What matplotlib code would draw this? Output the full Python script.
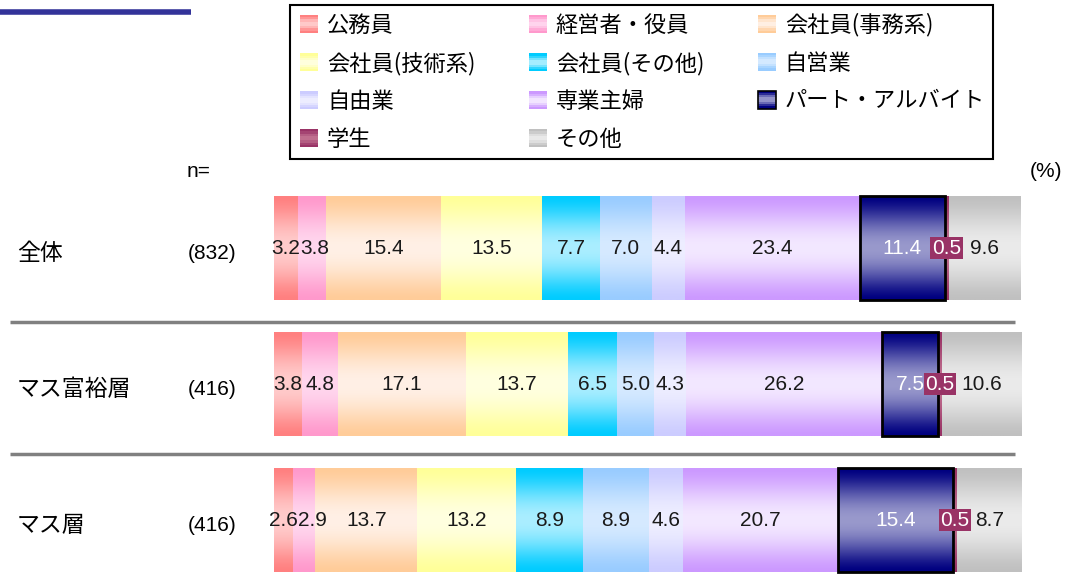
import numpy as np
import matplotlib.pyplot as plt
from matplotlib.colors import to_rgb
from matplotlib.patches import Rectangle
from matplotlib.legend_handler import HandlerBase
from matplotlib.transforms import blended_transform_factory

plt.rcParams['font.family'] = ['Liberation Sans', 'Noto Sans CJK JP', 'DejaVu Sans']

groups = ["全体", "マス富裕層", "マス層"]
n_counts = ["(832)", "(416)", "(416)"]
categories = ["公務員", "経営者・役員", "会社員(事務系)", "会社員(技術系)", "会社員(その他)",
              "自営業", "自由業", "専業主婦", "パート・アルバイト", "学生", "その他"]

zentai = [3.2, 3.8, 15.4, 13.5, 7.7, 7.0, 4.4, 23.4, 11.4, 0.5, 9.6]
mass_fuyu = [3.8, 4.8, 17.1, 13.7, 6.5, 5.0, 4.3, 26.2, 7.5, 0.5, 10.6]
mass = [2.6, 2.9, 13.7, 13.2, 8.9, 8.9, 4.6, 20.7, 15.4, 0.5, 8.7]
rows = [zentai, mass_fuyu, mass]

# gradient colours: edge (top/bottom) and centre
edge_colors = ["#FF8080", "#FF99CC", "#FFCC99", "#FFFF99", "#00CCFF", "#99CCFF",
               "#CCCCFF", "#CC99FF", "#000080", "#993366", "#C0C0C0"]
center_colors = ["#FFCCCC", "#FFD6EE", "#FFF0E6", "#FFFFE0", "#AAEEFF", "#D6EAFF",
                 "#EEEEFF", "#F3E8FF", "#9999CC", "#C07090", "#EBEBEB"]


def gradient(edge, center, n=64):
    t = np.linspace(0, 1, n)
    w = np.sin(np.pi * t) ** 1.5
    e = np.array(to_rgb(edge))
    c = np.array(to_rgb(center))
    return (e[None, :] * (1 - w[:, None]) + c[None, :] * w[:, None])[:, None, :]


class GradientHandler(HandlerBase):
    def __init__(self, edge, center, border=None):
        super().__init__()
        self.edge, self.center, self.border = edge, center, border

    def create_artists(self, legend, orig_handle, xdescent, ydescent,
                       width, height, fontsize, trans):
        s = 13
        x0, y0 = -xdescent + width - s, -ydescent + (height - s) / 2
        g = gradient(self.edge, self.center, 8)
        arts = []
        for i in range(8):
            arts.append(Rectangle((x0, y0 + s * i / 8), s, s / 8, facecolor=g[i, 0],
                                  edgecolor='none', transform=trans))
        if self.border:
            arts.append(Rectangle((x0, y0), s, s, facecolor='none',
                                  edgecolor=self.border, lw=1.2, transform=trans))
        return arts


fig = plt.figure(figsize=(10.67, 5.85), dpi=100)
ax = fig.add_axes([274 / 1067, 0, 747 / 1067, 1])
ax.axis('off')

ypos = np.arange(len(groups))
height = 104 / 136
left = np.zeros(len(groups))
labels = [[] for _ in groups]
for j, cat in enumerate(categories):
    vals = np.array([r[j] for r in rows])
    is_part = cat == "パート・アルバイト"
    bars = ax.barh(ypos, vals, left=left, height=height, facecolor='none',
                   edgecolor='black' if is_part else 'none',
                   linewidth=2 if is_part else 0, zorder=3)
    img = gradient(edge_colors[j], center_colors[j])
    for i, (b, v) in enumerate(zip(bars, vals)):
        x, y, w, h = b.get_x(), b.get_y(), b.get_width(), b.get_height()
        ax.imshow(img, extent=(x, x + w, y + h, y), aspect='auto',
                  interpolation='bilinear', zorder=2)
        cx, cy = x + w / 2, y + h / 2
        if cat == "学生":
            t = ax.text(cx, cy, f"{v:.1f}", ha='center', va='center', fontsize=15,
                        color='white', zorder=5,
                        bbox=dict(boxstyle='square,pad=0.08', facecolor='#993366',
                                  edgecolor='none'))
        else:
            t = ax.text(cx, cy, f"{v:.1f}", ha='center', va='center', fontsize=15,
                        color='white' if is_part else '#1a1a1a', zorder=5)
        labels[i].append(t)
    left += vals

ax.set_xlim(0, 100)
ax.set_ylim((585 - 248) / 136, -248 / 136)

# push crowded labels to the right so they don't overlap
fig.canvas.draw()
renderer = fig.canvas.get_renderer()
px_per_unit = ax.transData.transform((1, 0))[0] - ax.transData.transform((0, 0))[0]
for row in labels:
    prev_right = -np.inf
    for t in row:
        bb = t.get_window_extent(renderer)
        shift = max(0, prev_right - bb.x0)
        if shift:
            tx, ty = t.get_position()
            t.set_position((tx + shift / px_per_unit, ty))
        prev_right = bb.x1 + shift

# row labels
tr = blended_transform_factory(fig.transFigure, ax.transData)
for i, (g, n) in enumerate(zip(groups, n_counts)):
    ax.text(17 / 1067, i + 0.04, g, transform=tr, ha='left', va='center', fontsize=16.5,
            family=['Noto Sans CJK JP'])
    ax.text(188 / 1067, i + 0.04, n, transform=tr, ha='left', va='center', fontsize=15)
ax.text(187 / 1067, -0.56, "n=", transform=tr, ha='left', va='center', fontsize=15)
ax.text(1030 / 1067, -0.56, "(%)", transform=tr, ha='left', va='center', fontsize=15)

# separator lines
for yy in [0.545, 1.515]:
    ax.plot([10 / 1067, 1015 / 1067], [yy, yy], transform=tr, color='#808080',
            lw=2.5, clip_on=False, solid_capstyle='butt')

# top-left accent line
fig.add_artist(plt.Line2D([0, 191 / 1067], [1 - 11.5 / 585, 1 - 11.5 / 585],
                          color='#333399', lw=4, solid_capstyle='butt'))

# legend (column-major fill -> reorder to read row by row)
order = [0, 3, 6, 9, 1, 4, 7, 10, 2, 5, 8]
handles, hmap = [], {}
for j in order:
    h = Rectangle((0, 0), 1, 1)
    hmap[h] = GradientHandler(edge_colors[j], center_colors[j],
                              'black' if j == 8 else None)
    handles.append(h)
leg = fig.legend(handles, [categories[j] for j in order], handler_map=hmap, ncol=3,
                 loc='upper left', bbox_to_anchor=(290 / 1067, 0, 703 / 1067, 1 - 5 / 585),
                 mode='expand', prop={'family': ['Noto Sans CJK JP'], 'size': 16},
                 frameon=True, fancybox=False, edgecolor='black', framealpha=1,
                 handlelength=0.9, handleheight=0.6, handletextpad=0.4,
                 labelspacing=0.67, borderpad=0.36, borderaxespad=0, columnspacing=1.0)
leg.get_frame().set_linewidth(1.5)

fig.savefig("out.png", dpi=100)
